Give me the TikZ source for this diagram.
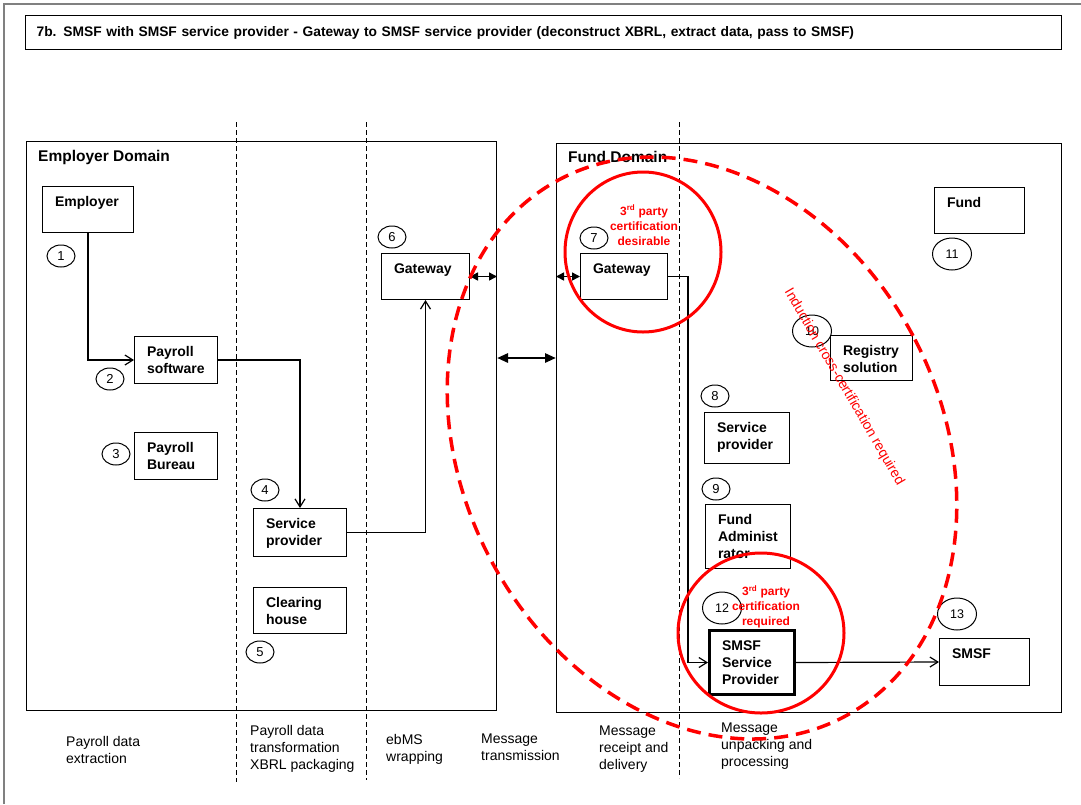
\documentclass[tikz,border=0pt]{standalone}
\usepackage{fontspec}
\setmainfont{Liberation Sans}
\usetikzlibrary{arrows.meta,shapes.geometric}
\definecolor{redc}{RGB}{255,0,0}
\newcommand{\bxt}[3]{\parbox[c][#2pt][t]{#1pt}{\leftskip=12.5pt\relax\rule{0pt}{20pt}#3}}
\tikzset{
  box/.style={draw, line width=1pt, inner sep=0pt, anchor=north west, font=\fontsize{14}{17}\selectfont\bfseries},
  num/.style={draw, ellipse, line width=1pt, inner sep=0pt, minimum width=28pt, minimum height=22pt, font=\fontsize{13}{15}\selectfont},
  bignum/.style={num, minimum width=39pt, minimum height=32pt, font=\fontsize{12.5}{14}\selectfont},
  flow/.style={line width=1.2pt, -{Straight Barb[length=8pt,width=10pt]}},
  dbl/.style={line width=1.5pt, {Triangle[length=8pt,width=8pt]}-{Triangle[length=8pt,width=8pt]}},
  bigdbl/.style={line width=2.7pt, {Triangle[length=11pt,width=9pt]}-{Triangle[length=11pt,width=9pt]}},
  lane/.style={line width=0.9pt, dash pattern=on 5pt off 3pt},
  dombox/.style={draw, line width=1pt, inner sep=0pt, anchor=north west},
  domtitle/.style={anchor=west, inner sep=0pt, font=\fontsize{15.5}{18}\selectfont\bfseries},
  redtxt/.style={text=redc, inner sep=0pt, font=\fontsize{12}{15}\selectfont\bfseries, align=center},
  lbl/.style={anchor=west, align=left, font=\fontsize{14}{17}\selectfont, inner sep=0pt},
  redring/.style={draw=redc, line width=3pt},
}
\begin{document}
\begin{tikzpicture}[x=1pt,y=-1pt]
\useasboundingbox (0,0) rectangle (1081,804);
\fill[white] (0,0) rectangle (1081,804);
\draw[gray, line width=2pt] (4,804) -- (4,4) -- (1081,4);

% title
\node[draw, line width=1.2pt, anchor=north west, minimum width=1036pt, minimum height=34pt,
      text width=1014pt, inner xsep=11pt, inner ysep=0pt, align=left,
      font=\fontsize{13.8}{16}\selectfont\bfseries] (title) at (25,15)
  {7b. SMSF with SMSF service provider - Gateway to SMSF service provider (deconstruct XBRL, extract data, pass to SMSF)};

% domains
\node[dombox, minimum width=470pt, minimum height=569pt] (empdom) at (26,141) {};
\node[dombox, minimum width=505pt, minimum height=569pt] (funddom) at (556,143) {};
\node[domtitle] (empt) at (38,157) {Employer Domain};
\node[domtitle] (fundt) at (568,157) {Fund Domain};

% lanes
\draw[lane] (236,122) -- (236,782);
\draw[lane] (366,122) -- (366,780);
\draw[lane] (679,122) -- (679,778);

% boxes
\node[box] (emp) at (42,186) {\bxt{91}{46}{Employer}};
\node[box] (pay) at (134,336) {\bxt{83}{47}{Payroll\\software}};
\node[box] (bur) at (134,432) {\bxt{83}{47}{Payroll\\Bureau}};
\node[box] (gw6) at (381,253) {\bxt{88}{46}{Gateway}};
\node[box] (sp4) at (253,508) {\bxt{93}{48}{Service\\provider}};
\node[box] (ch) at (253,587) {\bxt{93}{46}{Clearing\\house}};
\node[box] (gw7) at (580,253) {\bxt{87}{46}{Gateway}};
\node[box] (fund) at (934,187) {\bxt{90}{46}{Fund}};
\node[box] (reg) at (830,335) {\bxt{82}{45}{Registry\\solution}};
\node[box] (sp8) at (704,412) {\bxt{85}{51}{Service\\provider}};
\node[box] (fa) at (705,504) {\bxt{85}{64}{Fund\\Administ\\rator}};
\node[box, line width=3pt] (ssp) at (708,629) {\bxt{85}{64}{SMSF\\Service\\Provider}};
\node[box] (smsf) at (939,638) {\bxt{90}{47}{SMSF}};

% numbers
\node[num] (n1) at (61,256) {1};
\node[num] (n2) at (110,379) {2};
\node[num] (n3) at (116,454) {3};
\node[num] (n4) at (265,490) {4};
\node[num] (n5) at (260,652) {5};
\node[num] (n6) at (392,237) {6};
\node[num] (n7) at (594,238) {7};
\node[num] (n8) at (715,396) {8};
\node[num] (n9) at (716,489) {9};
\node[bignum] (n10) at (812,331) {10};
\node[bignum] (n11) at (952,254) {11};
\node[bignum] (n12) at (722,608) {12};
\node[bignum] (n13) at (957,614) {13};

% connectors
\draw[flow] (emp.south) |- (pay.west);
\draw[flow] (pay.east) -| (sp4.north);
\draw[flow] (sp4.east) -| (gw6.south);
\draw[dbl] (gw6.east) -- (gw6.east -| empdom.east);
\draw[dbl] (gw7.west -| funddom.west) -- (gw7.west);
\coordinate (tx) at (526,358);
\draw[bigdbl] (tx -| empdom.east) -- (tx -| funddom.west);
\draw[flow] (gw7.east) -- ++(20,0) |- (ssp.west);
\draw[flow] (ssp.east) -- (smsf.west);

% bottom labels
\node[lbl] (l1) at (66,750) {Payroll data\\extraction};
\node[lbl] (l2) at (250,749) {Payroll data\\transformation\\XBRL packaging};
\node[lbl] (l3) at (386,749.5) {ebMS\\wrapping};
\node[lbl] (l4) at (481,747.5) {Message\\transmission};
\node[lbl] (l5) at (599,749) {Message\\receipt and\\delivery};
\node[lbl] (l6) at (721,746) {Message\\unpacking and\\processing};

% red annotations
\draw[redc, line width=3.5pt, dash pattern=on 14pt off 8pt, rotate around={28:(702,448)}]
  (702,448) ellipse [x radius=239pt, y radius=304pt];
\draw[redring] (643,252) ellipse [x radius=78pt, y radius=80pt];
\draw[redring] (761,633) ellipse [x radius=83pt, y radius=80pt];
\node[redtxt] (r1) at (644,225) {3\textsuperscript{rd} party\\certification\\desirable};
\node[redtxt] (r2) at (766,607) {3\textsuperscript{rd} party\\certification\\required};
\node[text=redc, inner sep=0pt, font=\fontsize{14}{16}\selectfont, rotate=-59.8] (r3) at (844,387)
  {Induction cross-certification required};
\end{tikzpicture}
\end{document}
